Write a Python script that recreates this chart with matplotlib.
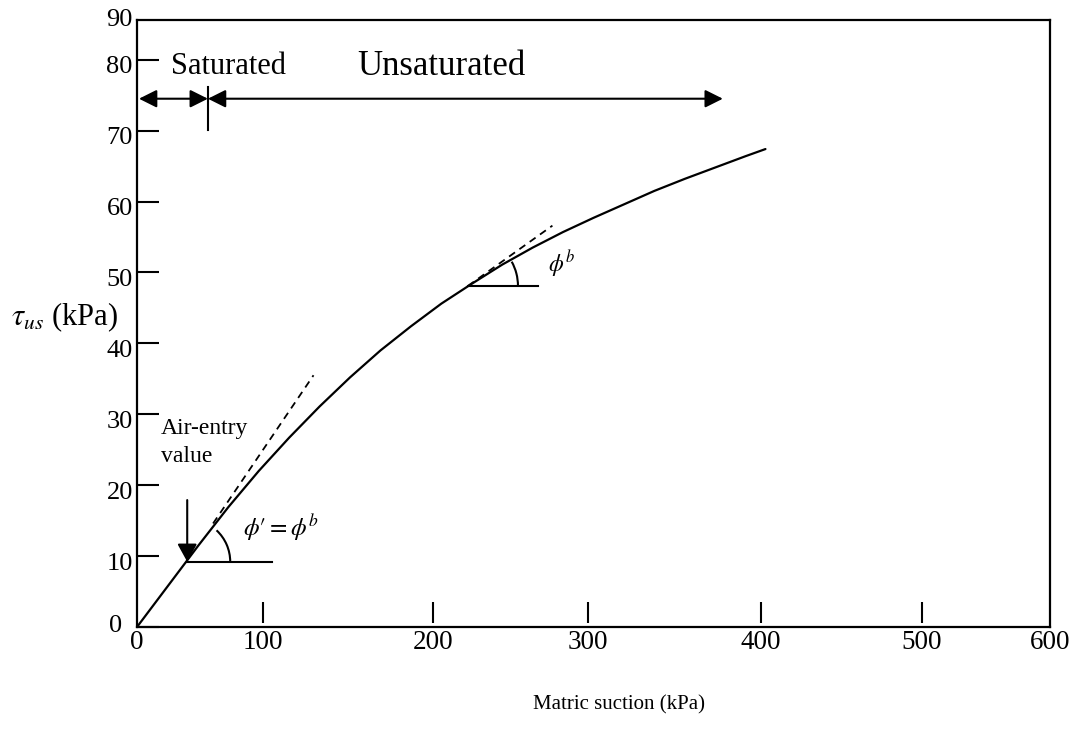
import numpy as np
import matplotlib
matplotlib.use("Agg")
import matplotlib.pyplot as plt
from matplotlib.patches import Arc
from matplotlib.transforms import ScaledTranslation

plt.rcParams["font.family"] = ["Liberation Serif", "DejaVu Serif"]
plt.rcParams["mathtext.fontset"] = "stix"

# Shear strength envelope against matric suction (kPa)
suction = [0, 20, 40, 60, 80, 100, 120, 140, 160, 180, 200, 220, 240, 260,
           280, 300, 320, 340, 360, 380, 400, 413]
shear = [0, 5.7, 11.4, 16.9, 22.0, 26.7, 31.1, 35.2, 39.0, 42.4, 45.6, 48.4,
         51.1, 53.5, 55.7, 57.7, 59.6, 61.5, 63.2, 64.8, 66.4, 67.4]

# Tangent (dashed) lines: saturated slope phi' and unsaturated slope phi^b
tangent1_x = [50, 116]
tangent1_y = [14.6, 35.5]
tangent2_x = [217.5, 273]
tangent2_y = [48.1, 56.6]

# Reference horizontals for the angle marks
horiz1_x = [33, 88.7]
horiz1_y = [9.2, 9.2]
horiz2_x = [217.5, 263.5]
horiz2_y = [48.1, 48.1]

air_entry = (33, 9.2)
air_entry_top = 17.9
boundary = 46.6          # saturated / unsaturated boundary
unsat_end = 385
zone_y = 74.5

x_tick_pos = [82.8, 194.5, 296.3, 410, 515.8]
x_tick_labels = ["100", "200", "300", "400", "500"]
y_ticks = [0, 10, 20, 30, 40, 50, 60, 70, 80]
y_tick_labels = ["0", "10", "20", "30", "40", "50", "60", "70", "80"]

X_MAX = 600
Y_MAX = 85.6

W, H = 1083, 740
fig = plt.figure(figsize=(W / 100, H / 100), dpi=100)
ax = fig.add_axes([137 / W, 1 - 627 / H, (1050 - 137) / W, (627 - 20) / H])
ax.set_xlim(0, X_MAX)
ax.set_ylim(0, Y_MAX)
for s in ax.spines.values():
    s.set_linewidth(1.6)
    s.set_color("black")

# main curve
ax.plot(suction, shear, color="black", lw=1.6, solid_capstyle="round",
        solid_joinstyle="round")

# tangent lines
ax.plot(tangent1_x, tangent1_y, color="black", lw=1.3, ls=(0, (4, 3)))
ax.plot(tangent2_x, tangent2_y, color="black", lw=1.3, ls=(0, (4, 3)))

# horizontals
ax.plot(horiz1_x, horiz1_y, color="black", lw=1.5)
ax.plot(horiz2_x, horiz2_y, color="black", lw=1.5)

# angle arcs: radius in pixels, sweep given as an on-screen angle
px_x = (1050 - 137) / X_MAX
px_y = (627 - 20) / Y_MAX


def screen_to_data_angle(a_deg):
    a = np.deg2rad(a_deg)
    return np.rad2deg(np.arctan2(np.sin(a) / px_y, np.cos(a) / px_x))


for (cx, cy), r, a2 in [((horiz1_x[0], horiz1_y[0]), 43, 47),
                        ((horiz2_x[0], horiz2_y[0]), 50, 29)]:
    ax.add_patch(Arc((cx, cy), 2 * r / px_x, 2 * r / px_y, theta1=0,
                     theta2=screen_to_data_angle(a2), color="black", lw=1.5))

ax.text(69.6, 14.0, r"$\phi\prime = \phi^b$", fontsize=18, ha="left", va="center")
ax.text(270, 51.3, r"$\phi^b$", fontsize=17, ha="left", va="center")

# air-entry arrow
ax.annotate("", xy=air_entry, xytext=(air_entry[0], air_entry_top),
            arrowprops=dict(arrowstyle="-|>,head_length=0.6,head_width=0.33",
                            mutation_scale=18, color="black", lw=1.5,
                            shrinkA=0, shrinkB=0))
ax.text(15.5, 26.0, "Air-entry\nvalue", fontsize=17, ha="left", va="center",
        linespacing=1.4)

# saturated / unsaturated zones
arrow_kw = dict(arrowstyle="<|-|>,head_length=0.6,head_width=0.3",
                mutation_scale=18, color="black", lw=1.5, shrinkA=0, shrinkB=0)
ax.annotate("", xy=(1.3, zone_y), xytext=(boundary, zone_y), arrowprops=arrow_kw)
ax.annotate("", xy=(boundary, zone_y), xytext=(unsat_end, zone_y), arrowprops=arrow_kw)
ax.plot([boundary, boundary], [70.1, 76.2], color="black", lw=1.5)
ax.text(60, 79.0, "Saturated", fontsize=22, ha="center", va="center")
ax.text(200, 79.0, "Unsaturated", fontsize=25, ha="center", va="center")

# x ticks: short marks standing just above the axis
ax.set_xticks([0] + x_tick_pos + [X_MAX])
ax.set_xticklabels(["0"] + x_tick_labels + ["600"], fontsize=19.5)
ax.tick_params(axis="x", length=0, pad=2)
ax.vlines(x_tick_pos, 0.56, 3.5, color="black", lw=1.5)

# y ticks
ax.set_yticks(y_ticks)
ax.set_yticklabels(y_tick_labels, fontsize=19)
ax.tick_params(axis="y", direction="in", length=16, width=1.5, pad=3)
for val, lab in zip(y_ticks, ax.get_yticklabels()):
    if val == 0:
        off = ScaledTranslation(-0.11, 0.04, fig.dpi_scale_trans)
    else:
        off = ScaledTranslation(0, -0.05, fig.dpi_scale_trans)
    lab.set_transform(lab.get_transform() + off)
ax.text(-0.005, Y_MAX, "90", fontsize=19, ha="right", va="center",
        transform=ax.get_yaxis_transform())

fig.text(65 / W, 1 - 317 / H, r"$\tau_{us}$" + " (kPa)", fontsize=22,
         ha="center", va="center")
fig.text(619 / W, 1 - 705 / H, "Matric suction (kPa)", fontsize=15,
         ha="center", va="center")

fig.savefig("out.png", dpi=100)
